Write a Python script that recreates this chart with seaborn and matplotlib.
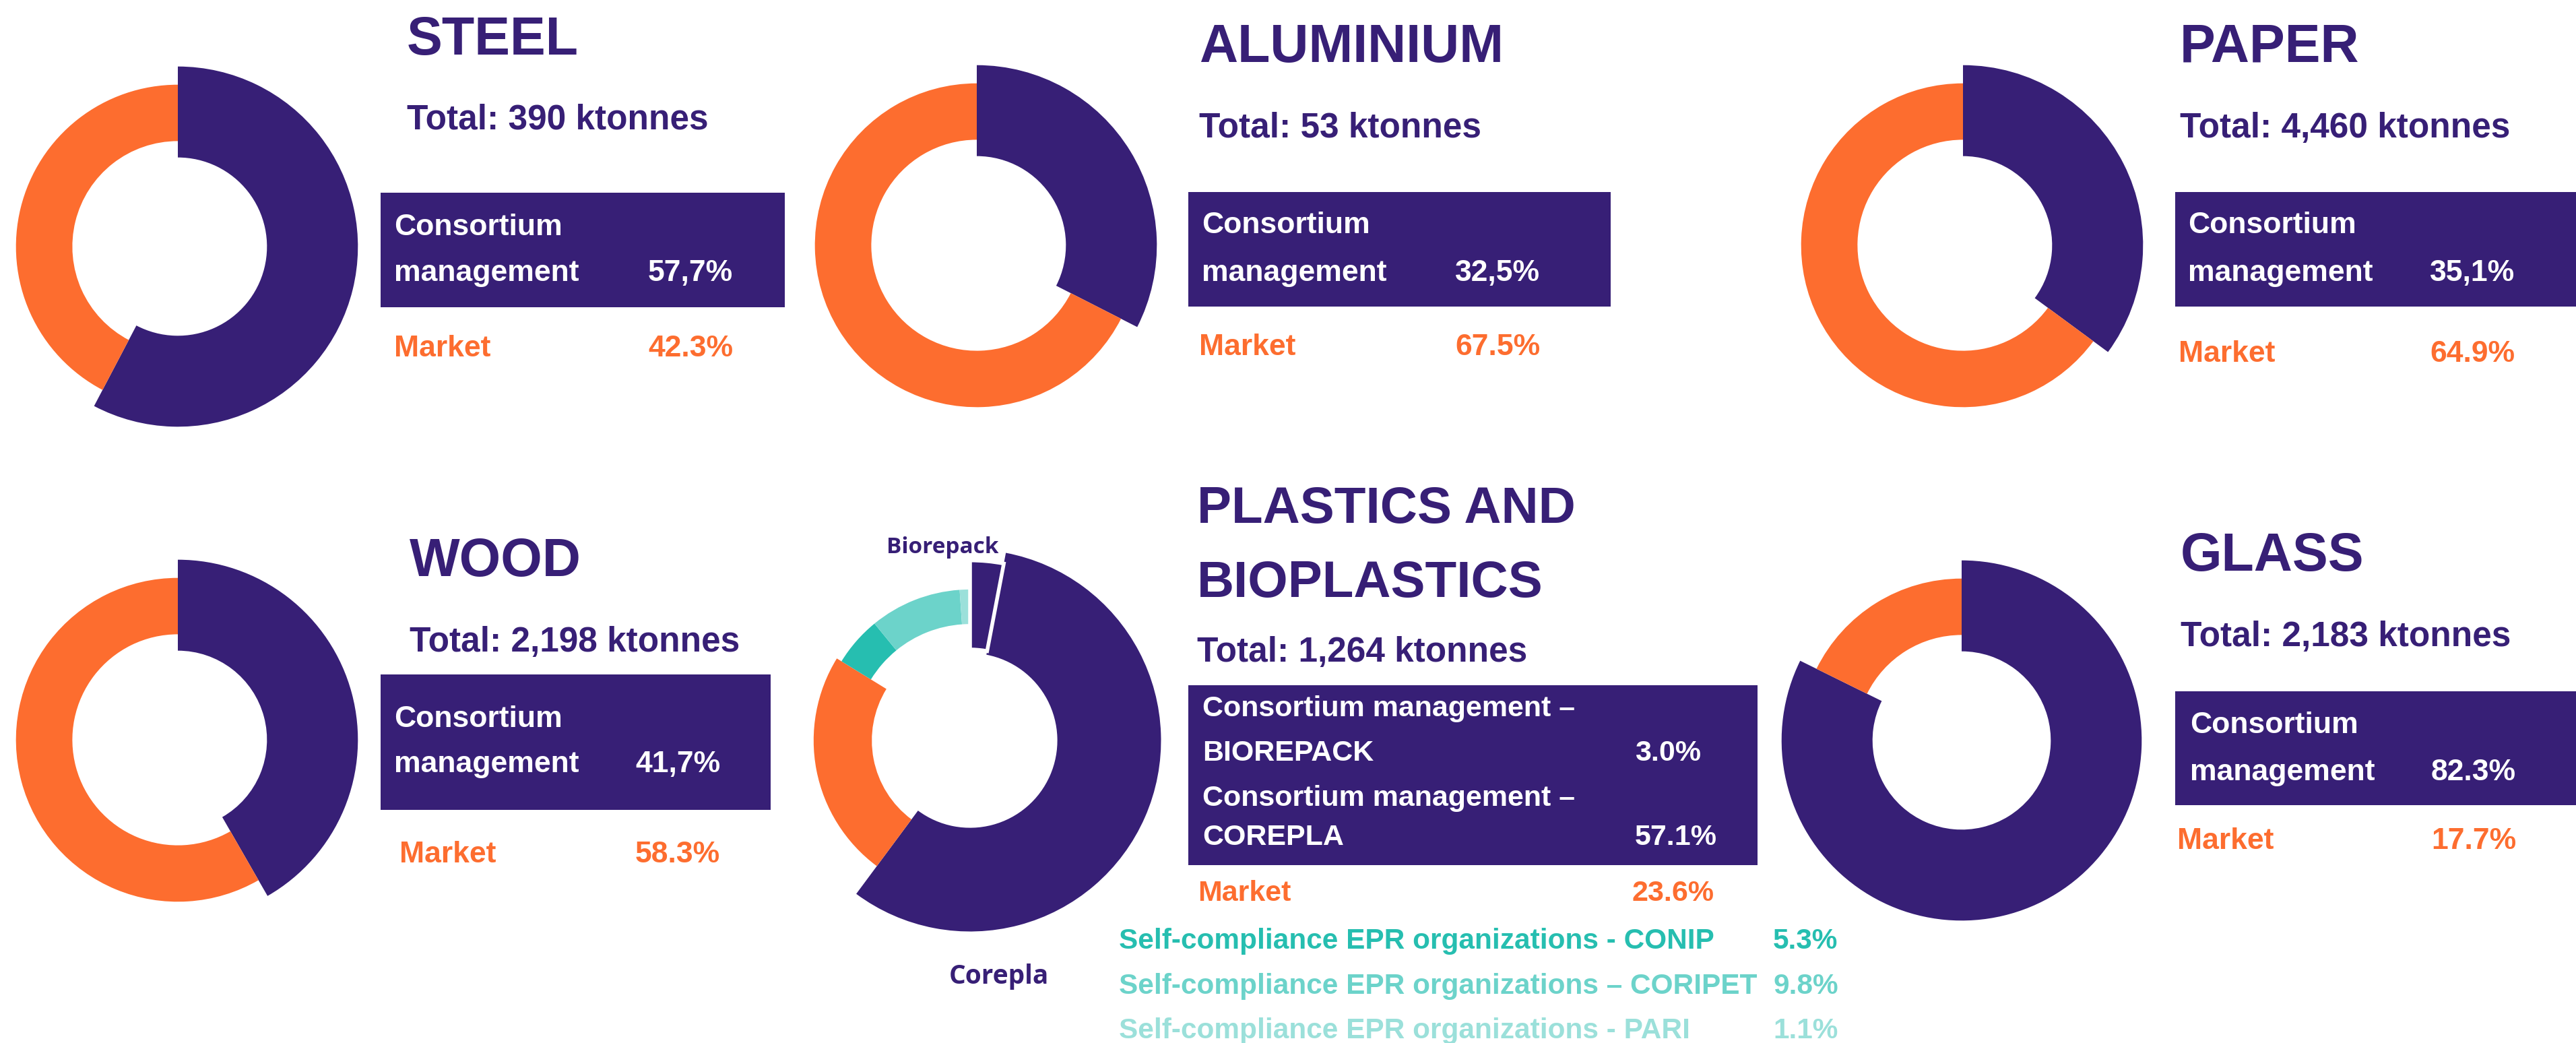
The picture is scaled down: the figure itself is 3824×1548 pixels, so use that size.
import matplotlib
matplotlib.use('Agg')
import matplotlib.pyplot as plt
from matplotlib.patches import Rectangle
import seaborn as sns

# ---- data ----
materials = ['STEEL', 'ALUMINIUM', 'PAPER', 'WOOD', 'GLASS']
totals = ['390', '53', '4,460', '2,198', '2,183']
consortium = [57.7, 32.5, 35.1, 41.7, 82.3]
market = [42.3, 67.5, 64.9, 58.3, 17.7]
consortium_labels = ['57,7%', '32,5%', '35,1%', '41,7%', '82.3%']
market_labels = ['42.3%', '67.5%', '64.9%', '58.3%', '17.7%']

plastics_names = ['Biorepack', 'Corepla', 'Market', 'CONIP', 'CORIPET', 'PARI']
plastics_pct = [3.0, 57.1, 23.6, 5.3, 9.8, 1.1]
plastics_total = '1,264'
self_dashes = ['-', '–', '-']

sns.set_theme(style='white')
plt.rcParams['font.family'] = ['Liberation Sans', 'DejaVu Sans']

PURPLE = '#371F76'
ORANGE = '#FD6D2F'
TEALS = ['#26BEB0', '#6CD3CA', '#9BE0DA']

W, H = 3824, 1548
fig = plt.figure(figsize=(W / 100, H / 100), dpi=100)
fig.patch.set_facecolor('white')


def fx(x):
    return x / W


def fy(y):
    return 1 - y / H


UNIT = 270   # pixels per unit radius
HALF = 330   # half size of each donut axes in pixels


def donut_ax(cx, cy):
    ax = fig.add_axes([fx(cx - HALF), fy(cy + HALF), 2 * HALF / W, 2 * HALF / H])
    return ax


def finish(ax):
    ax.set_xlim(-HALF / UNIT, HALF / UNIT)
    ax.set_ylim(-HALF / UNIT, HALF / UNIT)
    ax.set_aspect('equal')
    ax.axis('off')


def txt(x, y, s, size, color, **kw):
    fig.text(fx(x), fy(y), s, fontsize=size, color=color, fontweight='bold',
             va='baseline', ha='left', **kw)


def box(x0, y0, x1, y1):
    fig.add_artist(Rectangle((fx(x0), fy(y1)), (x1 - x0) / W, (y1 - y0) / H,
                             transform=fig.transFigure, color=PURPLE, lw=0, zorder=1))


# layout of the five two-part blocks (pixel positions)
layout = [
    dict(cx=264, cy=366, tx=604, title_y=81, total_y=192, box=(565, 286, 1165, 456),
         lx=585, cons_y=349, mgmt_y=417, vx=962, market_y=529, mx=585),
    dict(cx=1450, cy=364, tx=1780, title_y=92, total_y=204, box=(1764, 285, 2391, 455),
         lx=1784, cons_y=346, mgmt_y=417, vx=2160, market_y=527, mx=1780),
    dict(cx=2914, cy=364, tx=3236, title_y=92, total_y=204, box=(3229, 285, 3824, 455),
         lx=3248, cons_y=346, mgmt_y=417, vx=3607, market_y=537, mx=3234),
    dict(cx=264, cy=1098, tx=608, title_y=855, total_y=967, box=(565, 1001, 1144, 1202),
         lx=585, cons_y=1079, mgmt_y=1146, vx=943, market_y=1280, mx=593),
    dict(cx=2912, cy=1099, tx=3237, title_y=847, total_y=959, box=(3229, 1026, 3824, 1195),
         lx=3251, cons_y=1088, mgmt_y=1158, vx=3609, market_y=1260, mx=3232),
]

for i, lay in enumerate(layout):
    ax = donut_ax(lay['cx'], lay['cy'])
    wedges, _ = ax.pie([consortium[i], market[i]], colors=[PURPLE, ORANGE],
                       startangle=90, counterclock=False, radius=0.99,
                       wedgeprops=dict(width=0.5, linewidth=0))
    # market ring is thinner and smaller than the consortium ring
    wedges[1].set_radius(0.89)
    wedges[1].set_width(0.31)
    finish(ax)

    txt(lay['tx'], lay['title_y'], materials[i], 57, PURPLE)
    txt(lay['tx'], lay['total_y'], f'Total: {totals[i]} ktonnes', 37, PURPLE)
    box(*lay['box'])
    txt(lay['lx'], lay['cons_y'], 'Consortium', 32, 'white', zorder=3)
    txt(lay['lx'], lay['mgmt_y'], 'management', 32, 'white', zorder=3)
    txt(lay['vx'], lay['mgmt_y'], consortium_labels[i], 32, 'white', zorder=3)
    txt(lay['mx'], lay['market_y'], 'Market', 32, ORANGE)
    txt(lay['vx'], lay['market_y'], market_labels[i], 32, ORANGE)

# ---- plastics and bioplastics ----
ax = donut_ax(1440, 1099)
p_colors = [PURPLE, PURPLE, ORANGE] + TEALS
wedges, _ = ax.pie(plastics_pct, colors=p_colors, startangle=90, counterclock=False,
                   radius=0.99, wedgeprops=dict(width=0.5, linewidth=0))
ring = [(0.99, 0.49), (1.05, 0.57), (0.86, 0.32), (0.83, 0.19), (0.83, 0.19), (0.83, 0.19)]
for w, (r, wd) in zip(wedges, ring):
    w.set_radius(r)
    w.set_width(wd)
# thin white cut between Biorepack and Corepla
wedges[0].set_edgecolor('white')
wedges[0].set_linewidth(4)
wedges[0].set_zorder(3)
finish(ax)

fig.text(fx(1399), fy(821), plastics_names[0], fontsize=24, color=PURPLE, fontweight='bold',
         family=['Open Sans', 'DejaVu Sans'], ha='center', va='baseline')
fig.text(fx(1483), fy(1460), plastics_names[1], fontsize=28, color=PURPLE, fontweight='bold',
         family=['Open Sans', 'DejaVu Sans'], ha='center', va='baseline')

txt(1777, 776, 'PLASTICS AND', 55, PURPLE)
txt(1777, 886, 'BIOPLASTICS', 55, PURPLE)
txt(1777, 982, f'Total: {plastics_total} ktonnes', 37, PURPLE)
box(1764, 1017, 2609, 1284)
for j, (y1, y2) in enumerate([(1063, 1129), (1196, 1254)]):
    txt(1785, y1, 'Consortium management –', 31, 'white', zorder=3)
    txt(1785, y2, plastics_names[j].upper(), 31, 'white', zorder=3)
    txt(2427, y2, f'{plastics_pct[j]:.1f}%', 31, 'white', zorder=3)
txt(1778, 1337, plastics_names[2], 31, ORANGE)
txt(2422, 1337, f'{plastics_pct[2]:.1f}%', 31, ORANGE)
for k, y in enumerate([1408, 1475, 1541]):
    name = plastics_names[3 + k]
    txt(1661, y, f'Self-compliance EPR organizations {self_dashes[k]} {name}', 30.5, TEALS[k])
    txt(2632, y, f'{plastics_pct[3 + k]:.1f}%', 30.5, TEALS[k])

fig.savefig('out.png', dpi=100, facecolor='white')
